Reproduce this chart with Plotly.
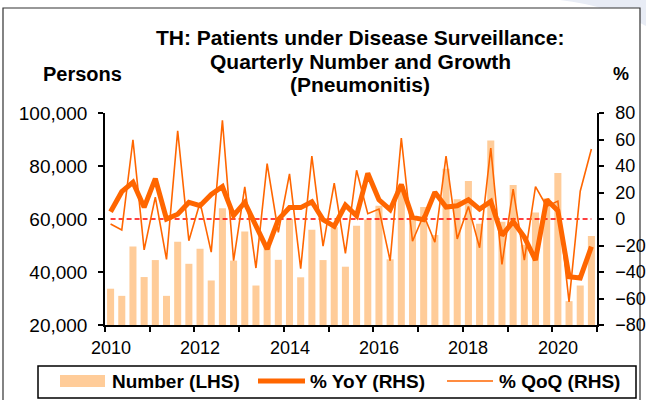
import plotly.graph_objects as go

# ---- data (2010Q1 .. 2020Q4) ----
years = list(range(2010, 2021))
quarters = [1, 2, 3, 4]
number = [33700, 31000, 49600, 38100, 44500, 31000, 51400, 43100, 48800, 36800,
          64100, 44300, 55300, 34900, 49500, 44600, 60000, 38000, 55900, 44500,
          56900, 42000, 57500, 59800, 65000, 44800, 72500, 60400, 64500, 54000,
          79000, 67500, 74300, 58200, 89600, 59000, 72800, 50300, 62500, 67800,
          77400, 29000, 34900, 53600]
yoy = [5.5, 20.6, 27.7, 8.8, 30.5, 0.0, 3.6, 12.5, 10.0, 18.5,
       24.5, 2.7, 12.5, -5.5, -22.7, -0.5, 8.6, 8.6, 13.0, -0.5,
       -5.5, 10.5, 2.5, 34.5, 14.5, 7.0, 26.0, 1.2, -0.5, 20.2,
       9.0, 10.0, 14.5, 7.5, 13.3, -12.3, -2.0, -13.7, -31.0, 14.5,
       6.3, -43.5, -44.5, -20.9]
qoq = [-3.8, -8.3, 59.8, -23.3, 16.5, -30.5, 66.5, -16.4, 12.5, -25.0,
       74.5, -31.5, 24.2, -37.0, 41.8, -10.0, 34.0, -37.5, 47.5, -20.5,
       27.0, -26.0, 36.8, 4.0, 7.5, -31.5, 61.0, -16.8, 3.0, -17.5,
       47.5, -15.0, 9.5, -21.7, 53.5, -34.3, 22.5, -31.0, 24.5, 9.5,
       13.5, -62.5, 21.0, 52.8]
year_ticks = list(range(2010, 2022))
year_labels = ["2010", "2012", "2014", "2016", "2018", "2020"]
left_ticks = [20000, 40000, 60000, 80000, 100000]
right_ticks = [-80, -60, -40, -20, 0, 20, 40, 60, 80]
title_lines = ["TH: Patients under Disease Surveillance:",
               "Quarterly Number and Growth", "(Pneumonitis)"]
legend_names = ["Number (LHS)", "% YoY (RHS)", "% QoQ (RHS)"]

# quarter positions on a continuous year axis (centre of each quarter)
x = [y + (q - 0.5) / 4 for y in years for q in quarters]

BAR = "#FFCC99"
LINE = "#FF6600"
FONT = "Liberation Sans, Arial, sans-serif"
YOY_W, QOQ_W = 5, 1.6

fig = go.Figure()
fig.add_trace(go.Bar(x=x, y=number, marker=dict(color=BAR, line_width=0),
                     name=legend_names[0], yaxis="y"))
fig.add_trace(go.Scatter(x=[x[0], x[-1]], y=[0, 0], mode="lines", yaxis="y2",
                         line=dict(color="#FF0000", width=1.5, dash="5px,3px"),
                         hoverinfo="skip"))
fig.add_trace(go.Scatter(x=x, y=yoy, mode="lines", name=legend_names[1], yaxis="y2",
                         line=dict(color=LINE, width=YOY_W)))
fig.add_trace(go.Scatter(x=x, y=qoq, mode="lines", name=legend_names[2], yaxis="y2",
                         line=dict(color=LINE, width=QOQ_W)))

L, R, T, B = 105, 49, 113, 75
W, H = 646, 400
pw, ph = W - L - R, H - T - B

def px(xpix):
    return (xpix - L) / pw

def py(ypix):
    return (H - B - ypix) / ph

annotations = []
for lab in year_labels:
    annotations.append(dict(x=int(lab) + 0.125, y=py(348), xref="x", yref="paper",
                            text=lab, showarrow=False, xanchor="center", yanchor="middle",
                            font=dict(size=18, color="black", family=FONT)))
for line_text, ypix in zip(title_lines, [38, 61, 84]):
    annotations.append(dict(x=px(360), y=py(ypix), xref="paper", yref="paper",
                            text=line_text, showarrow=False, xanchor="center",
                            yanchor="middle",
                            font=dict(size=21, color="black", family=FONT, weight="bold")))
annotations.append(dict(x=px(82), y=py(74), xref="paper", yref="paper", text="Persons",
                        showarrow=False, xanchor="center", yanchor="middle",
                        font=dict(size=20, color="black", family=FONT, weight="bold")))
annotations.append(dict(x=px(621), y=py(74), xref="paper", yref="paper", text="%",
                        showarrow=False, xanchor="center", yanchor="middle",
                        font=dict(size=18, color="black", family=FONT, weight="bold")))

# faint slide-background swoosh in the top-right corner
swoosh = "M {a},{b} Q {c},{d} {e},{f} L {g},{h} Z".format(
    a=px(560), b=py(0), c=px(610), d=py(6), e=px(646), f=py(26), g=px(646), h=py(0))

# ---- legend drawn as a boxed row (as in the original) ----
LEG_Y = 381
shapes = [
    dict(type="path", xref="paper", yref="paper", path=swoosh,
         fillcolor="#E8ECF5", line=dict(width=0), layer="below"),
    dict(type="rect", xref="paper", yref="paper", x0=px(3), x1=px(640),
         y0=py(8), y1=py(403), line=dict(color="#333333", width=1.2),
         fillcolor="white", layer="below"),
    dict(type="rect", xref="paper", yref="paper", x0=px(38), x1=px(636),
         y0=py(366), y1=py(398), line=dict(color="black", width=1.5),
         fillcolor="white", layer="above"),
    dict(type="rect", xref="paper", yref="paper", x0=px(60), x1=px(105),
         y0=py(LEG_Y - 6), y1=py(LEG_Y + 6), line=dict(width=0),
         fillcolor=BAR, layer="above"),
    dict(type="line", xref="paper", yref="paper", x0=px(258), x1=px(305),
         y0=py(LEG_Y), y1=py(LEG_Y), line=dict(color=LINE, width=YOY_W), layer="above"),
    dict(type="line", xref="paper", yref="paper", x0=px(447), x1=px(493),
         y0=py(LEG_Y), y1=py(LEG_Y), line=dict(color=LINE, width=QOQ_W), layer="above"),
]
for name, xs in zip(legend_names, [110, 308, 497]):
    annotations.append(dict(x=px(xs), y=py(LEG_Y), xref="paper", yref="paper",
                            text=name, showarrow=False, xanchor="left", yanchor="middle",
                            font=dict(size=19, color="black", family=FONT, weight="bold")))

fig.update_layout(
    width=W, height=H, margin=dict(l=L, r=R, t=T, b=B, autoexpand=False),
    paper_bgcolor="white", plot_bgcolor="rgba(0,0,0,0)",
    font=dict(family=FONT, size=18, color="black"),
    bargap=0.37, showlegend=False,
    xaxis=dict(range=[2010, 2021], tickvals=year_ticks, showticklabels=False,
               ticks="outside", ticklen=5, tickwidth=1.5, tickcolor="black",
               showline=True, linecolor="black", linewidth=1.5, showgrid=False,
               zeroline=False, fixedrange=True),
    yaxis=dict(range=[20000, 100000], tickvals=left_ticks, tickformat=",",
               ticks="outside", ticklen=5, tickwidth=1.5, tickcolor="black",
               showline=True, linecolor="black", linewidth=1.5, showgrid=False,
               zeroline=False, ticklabelstandoff=7,
               tickfont=dict(size=19, color="black", family=FONT)),
    yaxis2=dict(range=[-80, 80], tickvals=right_ticks, overlaying="y", side="right",
                ticks="outside", ticklen=5, tickwidth=1.5, tickcolor="black",
                showline=True, linecolor="black", linewidth=1.5, showgrid=False,
                zeroline=False, ticklabelstandoff=8,
                tickfont=dict(size=18, color="black", family=FONT)),
    annotations=annotations, shapes=shapes,
)

fig.write_html("out.html", config={"displayModeBar": False},
               post_script="document.body.style.margin='0px';")
